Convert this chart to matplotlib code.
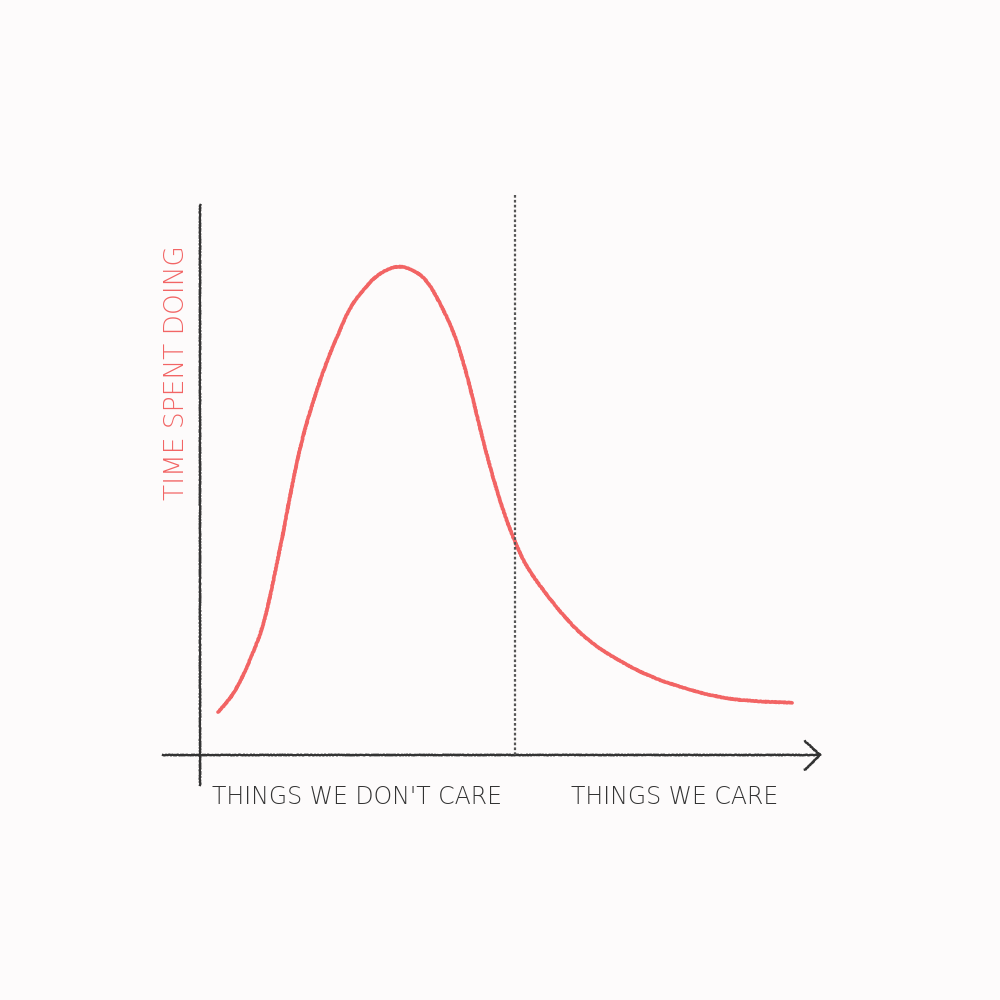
import matplotlib
matplotlib.use("Agg")
import matplotlib.pyplot as plt
from matplotlib.path import Path
from matplotlib.patches import PathPatch

# Data (x: ordering of things, y: time spent)
curve_x = [0.29, 0.48, 0.69, 0.85, 1.00, 1.13, 1.24, 1.32, 1.40, 1.48, 1.56,
           1.66, 1.82, 2.05, 2.21, 2.42, 2.63, 2.85, 3.18, 3.44, 3.66, 3.87,
           4.08, 4.24, 4.40, 4.56, 4.79, 5.00, 5.16, 5.27, 5.53, 5.92, 6.29,
           6.73, 7.26, 7.79, 8.34, 8.87, 9.55]
curve_y = [0.78, 1.00, 1.42, 1.85, 2.27, 2.87, 3.49, 3.91, 4.40, 4.87, 5.31,
           5.80, 6.42, 7.18, 7.60, 8.15, 8.45, 8.73, 8.91, 8.82, 8.64, 8.22,
           7.73, 7.18, 6.49, 5.73, 4.78, 4.09, 3.67, 3.42, 3.00, 2.45, 2.05,
           1.73, 1.42, 1.22, 1.05, 0.98, 0.95]
divider_x = 5.08
region_labels = ["THINGS WE DON'T CARE", "THINGS WE CARE"]
region_label_x = [2.53, 7.66]
y_label = "TIME SPENT DOING"

BG = "#fdfbfb"
RED = "#f26464"
INK = "#333333"

fig = plt.figure(figsize=(10, 10), dpi=100, facecolor=BG)
ax = fig.add_axes([0.2, 0.245, 0.62, 0.55])
ax.set_facecolor(BG)
ax.set_xlim(0, 10)
ax.set_ylim(0, 10)
for s in ax.spines.values():
    s.set_visible(False)
ax.set_xticks([])
ax.set_yticks([])

# axes lines
yl, = ax.plot([0, 0], [-0.55, 10.0], color=INK, lw=1.7, clip_on=False)
xl, = ax.plot([-0.6, 10.0], [0, 0], color=INK, lw=1.7, clip_on=False)
ah, = ax.plot([9.76, 10.0, 9.76], [0.25, 0, -0.27], color=INK, lw=1.7,
              clip_on=False)
for l in (yl, xl, ah):
    l.set_sketch_params(0.4, 3, 2)

# divider
dv, = ax.plot([divider_x, divider_x], [0, 10.18], color="#555555", lw=1.6,
              linestyle=(0, (1.2, 1.0)), clip_on=False)

# curve: smooth rendering using the read points as Bezier control points
pts = list(zip(curve_x, curve_y))
verts = [pts[0]]
codes = [Path.MOVETO]
for i in range(1, len(pts) - 1):
    mid = ((pts[i][0] + pts[i + 1][0]) / 2, (pts[i][1] + pts[i + 1][1]) / 2)
    verts += [pts[i], mid]
    codes += [Path.CURVE3, Path.CURVE3]
verts.append(pts[-1])
codes.append(Path.LINETO)
cv = PathPatch(Path(verts, codes), fill=False, edgecolor=RED, lw=2.6,
               capstyle="round", joinstyle="round", transform=ax.transData,
               clip_on=False)
cv.set_sketch_params(0.3, 3, 2)
ax.add_patch(cv)

font = dict(family=["DejaVu Sans"], fontweight="light")
for lab, lx in zip(region_labels, region_label_x):
    ax.text(lx, -0.76, lab, ha="center", va="center", fontsize=17,
            color=INK, **font)
ax.text(-0.38, 6.95, y_label, rotation=90, ha="center", va="center",
        fontsize=19, color=RED, **font)

fig.savefig("out.png", dpi=100, facecolor=BG)
